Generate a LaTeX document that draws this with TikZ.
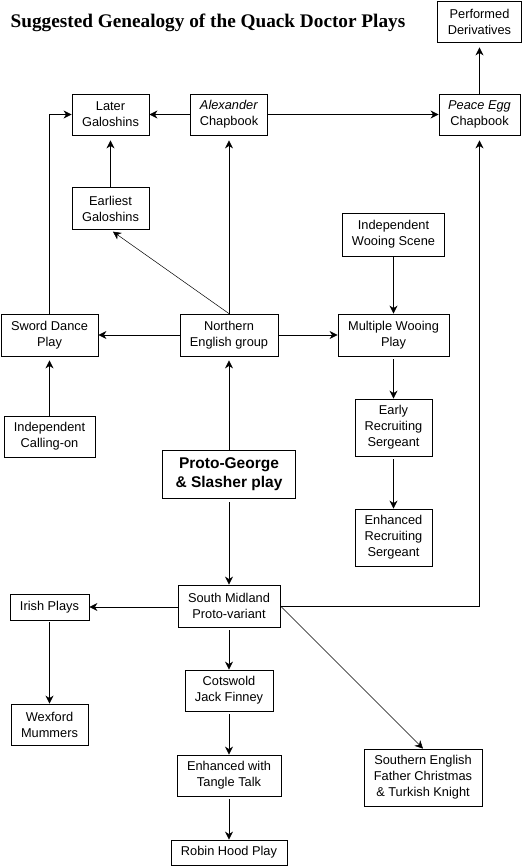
\documentclass[tikz,border=0pt]{standalone}
\usepackage{fontspec}
\setmainfont{Liberation Sans}
\newfontfamily\titlefont{Liberation Serif}
\usetikzlibrary{arrows.meta}
\begin{document}
\begin{tikzpicture}[x=1pt,y=-1pt,
  box/.style={draw,line width=0.8pt,inner sep=0pt,align=center,font=\fontsize{12.8}{16}\selectfont},
  conn/.style={line width=0.8pt,-{Stealth[length=8pt,width=8pt,inset=2.5pt]}},
  thinconn/.style={conn,line width=0.5pt}]
\useasboundingbox (0,0) rectangle (526,867);
\node[anchor=base west,inner sep=0pt,font=\titlefont\bfseries\fontsize{19.25}{22}\selectfont] (title) at (10.5,28) {Suggested Genealogy of the Quack Doctor Plays};
\node[box,minimum width=84pt,minimum height=41pt] (perf) at (479.5,21.5) {Performed\\Derivatives};
\node[box,minimum width=77pt,minimum height=41pt] (later) at (110.5,114.5) {Later\\Galoshins};
\node[box,minimum width=77pt,minimum height=41pt] (alex) at (229,114.5) {\textit{Alexander}\\Chapbook};
\node[box,minimum width=81pt,minimum height=41pt] (peace) at (479.5,114.5) {\textit{Peace Egg}\\Chapbook};
\node[box,minimum width=77pt,minimum height=42pt] (earliest) at (110.5,208.5) {Earliest\\Galoshins};
\node[box,minimum width=102pt,minimum height=43pt] (indwoo) at (393.5,234.5) {Independent\\Wooing Scene};
\node[box,minimum width=97pt,minimum height=42pt] (sword) at (49.5,335) {Sword Dance\\Play};
\node[box,minimum width=98pt,minimum height=42pt] (north) at (229,335) {Northern\\English group};
\node[box,minimum width=111pt,minimum height=42pt] (multi) at (393.5,335) {Multiple Wooing\\Play};
\node[box,minimum width=77pt,minimum height=57pt] (early) at (393.5,427.5) {Early\\Recruiting\\Sergeant};
\node[box,minimum width=77pt,minimum height=57pt] (enhrec) at (393.5,537.5) {Enhanced\\Recruiting\\Sergeant};
\node[box,minimum width=91pt,minimum height=41pt] (calling) at (49.5,436.5) {Independent\\Calling-on};
\node[box,minimum width=133pt,minimum height=48pt,font=\bfseries\fontsize{15.5}{19}\selectfont] (proto) at (229,474) {Proto-George\\\& Slasher play};
\node[box,minimum width=102pt,minimum height=42pt] (south) at (229,606) {South Midland\\Proto-variant};
\node[box,minimum width=79pt,minimum height=26pt] (irish) at (49.5,607) {Irish Plays};
\node[box,minimum width=77pt,minimum height=41pt] (wexford) at (49.5,724.5) {Wexford\\Mummers};
\node[box,minimum width=88pt,minimum height=41pt] (cots) at (229,690.5) {Cotswold\\Jack Finney};
\node[box,minimum width=104pt,minimum height=41pt] (tangle) at (229,775.5) {Enhanced with\\Tangle Talk};
\node[box,minimum width=118pt,minimum height=57pt] (southern) at (423,777.5) {Southern English\\Father Christmas\\\& Turkish Knight};
\node[box,minimum width=116pt,minimum height=25pt] (robin) at (229,852.5) {Robin Hood Play};
% connectors
\draw[conn] (alex.west) -- (later.east);
\draw[conn] (alex.east) -- (peace.west);
\draw[conn,shorten >=5pt] (peace.north) -- (perf.south);
\draw[conn] (sword.north) |- (later.west);
\draw[conn,shorten >=5pt] (earliest.north) -- (later.south);
\draw[conn,shorten >=5pt] (north.north) -- (alex.south);
\draw[thinconn,shorten >=3pt] (north.north) -- (earliest.south);
\draw[conn] (north.west) -- (sword.east);
\draw[conn] (north.east) -- (multi.west);
\draw[conn,shorten <=1pt] (indwoo.south) -- (multi.north);
\draw[conn,shorten <=3pt] (multi.south) -- (early.north);
\draw[conn,shorten <=3pt] (early.south) -- (enhrec.north);
\draw[conn,shorten >=4pt] (calling.north) -- (sword.south);
\draw[conn,shorten >=4pt] (proto.north) -- (north.south);
\draw[conn,shorten <=4pt] (proto.south) -- (south.north);
\draw[conn] (south.west |- irish.east) -- (irish.east);
\draw[conn,shorten >=5pt] (south.east) -| (peace.south);
\draw[thinconn] (south.east) -- (southern.north);
\draw[conn,shorten <=2pt] (irish.south) -- (wexford.north);
\draw[conn,shorten <=3pt] (south.south) -- (cots.north);
\draw[conn,shorten <=3pt] (cots.south) -- (tangle.north);
\draw[conn,shorten <=3pt] (tangle.south) -- (robin.north);
\end{tikzpicture}
\end{document}
